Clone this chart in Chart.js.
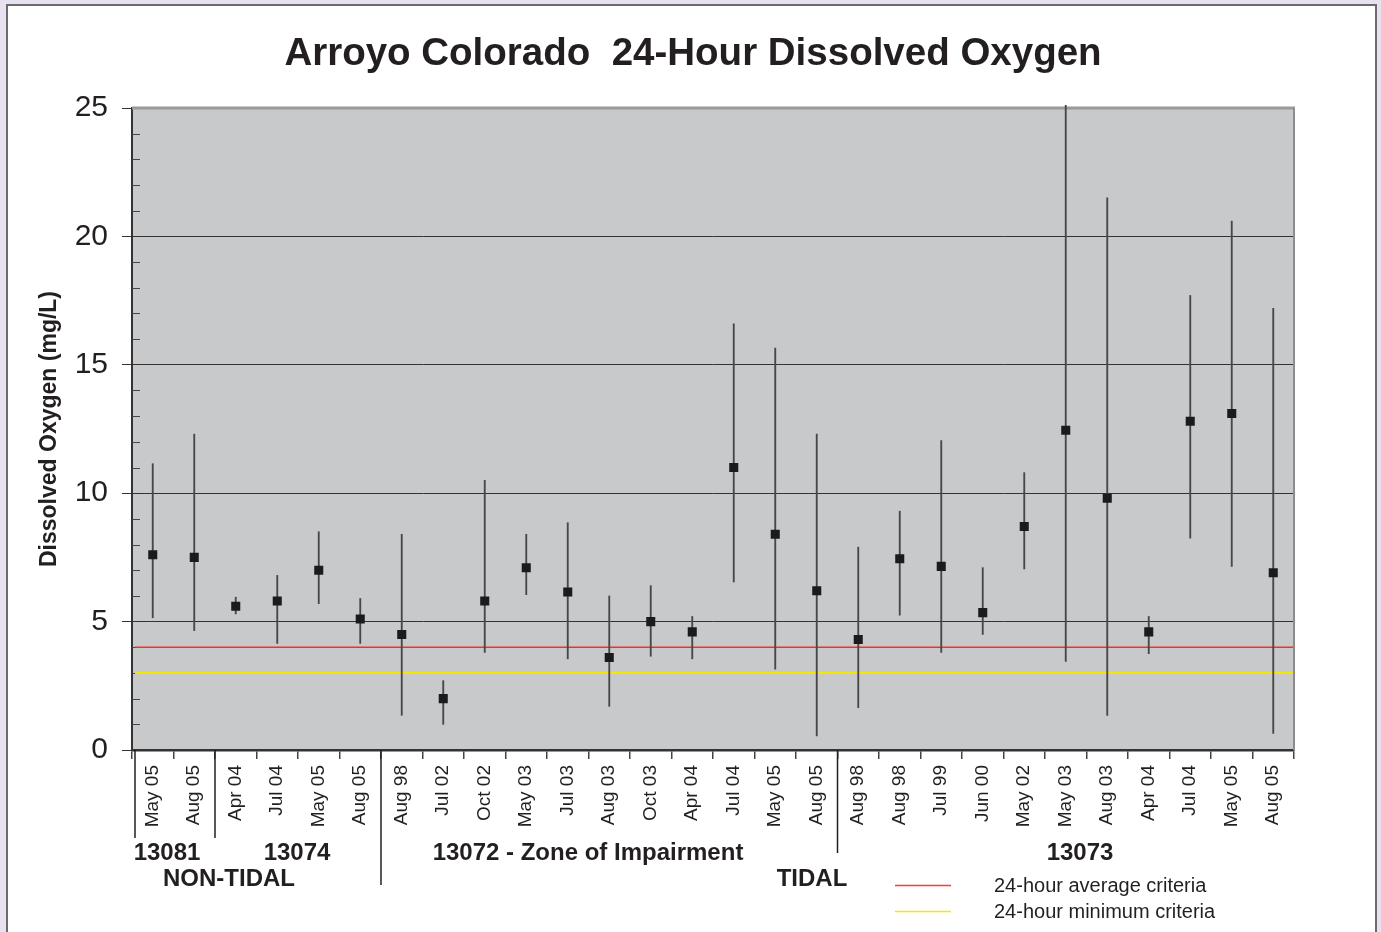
<!DOCTYPE html>
<html lang="en">
<head>
<meta charset="UTF-8">
<title>Arroyo Colorado 24-Hour Dissolved Oxygen</title>
<script src="https://cdn.jsdelivr.net/npm/chart.js"></script>
<style>
  html, body { margin: 0; padding: 0; background: #e8e2f0; overflow: hidden; }
  #frame { position: absolute; left: 6px; top: 4px; width: 1367px; height: 940px;
           background: #fff; border: 2px solid #6b6b6b; }
  #doChart { position: absolute; left: 0; top: 0; }
</style>
</head>
<body>
<div id="frame"></div>
<canvas id="doChart" width="1381" height="932"></canvas>
<script>
// sampling events, in plot order
var categories = ['May 05','Aug 05','Apr 04','Jul 04','May 05','Aug 05','Aug 98','Jul 02','Oct 02','May 03',
                  'Jul 03','Aug 03','Oct 03','Apr 04','Jul 04','May 05','Aug 05','Aug 98','Aug 98','Jul 99',
                  'Jun 00','May 02','May 03','Aug 03','Apr 04','Jul 04','May 05','Aug 05'];
// 24-hour mean, max and min dissolved oxygen (mg/L)
var doMean = [7.6, 7.5, 5.6, 5.8, 7.0, 5.1, 4.5, 2.0, 5.8, 7.1, 6.15, 3.6, 5.0, 4.6, 11.0, 8.4, 6.2, 4.3, 7.45, 7.15,
              5.35, 8.7, 12.45, 9.8, 4.6, 12.8, 13.1, 6.9];
var doMax  = [11.15, 12.3, 5.95, 6.8, 8.5, 5.9, 8.4, 2.7, 10.5, 8.4, 8.85, 6.0, 6.4, 5.2, 16.6, 15.65, 12.3, 7.9, 9.3, 12.05,
              7.1, 10.8, 25.1, 21.5, 5.2, 17.7, 20.6, 17.2];
var doMin  = [5.15, 4.65, 5.3, 4.15, 5.7, 4.15, 1.35, 1.0, 3.8, 6.05, 3.55, 1.7, 3.65, 3.55, 6.55, 3.15, 0.55, 1.65, 5.25, 3.8,
              4.5, 7.05, 3.45, 1.35, 3.75, 8.25, 7.15, 0.65];
var yTicks = [0, 5, 10, 15, 20, 25];
var avgCriteria = 4;
var minCriteria = 3;

Chart.defaults.font.family = '"Liberation Sans", Arial, sans-serif';
Chart.defaults.color = '#231f20';

// plot background, criteria lines, frame edges, minor ticks, title and notes
var plotDecor = {
    id: 'plotDecor',
    beforeDraw: function(chart) {
        var a = chart.chartArea, c = chart.ctx;
        c.save();
        c.fillStyle = '#c8c9cb';
        c.fillRect(a.left, a.top, a.right - a.left, a.bottom - a.top);
        c.restore();
    },
    beforeDatasetsDraw: function(chart) {
        var a = chart.chartArea, c = chart.ctx, y = chart.scales.y;
        c.save();
        // minor ticks inside plot
        c.strokeStyle = '#444';
        c.lineWidth = 1;
        for (var v = 1; v < 25; v++) {
            if (v % 5 === 0) continue;
            var py = Math.round(y.getPixelForValue(v)) + 0.5;
            c.beginPath(); c.moveTo(a.left, py); c.lineTo(a.left + 8, py); c.stroke();
        }
        // criteria
        c.lineWidth = 1.5;
        c.strokeStyle = '#ff2b2b';
        var ry = y.getPixelForValue(avgCriteria);
        c.beginPath(); c.moveTo(a.left + 3, ry); c.lineTo(a.right, ry); c.stroke();
        c.lineWidth = 2;
        c.strokeStyle = '#f5e800';
        var yy = y.getPixelForValue(minCriteria);
        c.beginPath(); c.moveTo(a.left + 3, yy); c.lineTo(a.right, yy); c.stroke();
        // top and right edges
        c.strokeStyle = '#9a9a9a';
        c.lineWidth = 3;
        c.beginPath(); c.moveTo(a.left, a.top); c.lineTo(a.right + 1, a.top); c.stroke();
        c.strokeStyle = '#8c8c8c';
        c.lineWidth = 2;
        c.beginPath(); c.moveTo(a.right, a.top); c.lineTo(a.right, a.bottom); c.stroke();
        c.restore();
    },
    afterDraw: function(chart) {
        var a = chart.chartArea, c = chart.ctx, x = chart.scales.x;
        var step = (a.right - a.left) / categories.length;
        c.save();
        c.fillStyle = '#231f20';
        c.textAlign = 'center';
        c.textBaseline = 'middle';
        c.font = 'bold 38.5px "Liberation Sans", Arial, sans-serif';
        c.fillText('Arroyo Colorado  24-Hour Dissolved Oxygen', 693, 54);
        // group separators below the axis
        c.strokeStyle = '#231f20';
        c.lineWidth = 1.5;
        var seps = [[0, 838], [2, 838], [6, 885], [17, 853]];
        seps.forEach(function(s) {
            var px = s[0] === 0 ? a.left + 3 : x.getPixelForValue(s[0]) - step / 2;
            c.beginPath(); c.moveTo(px, a.bottom); c.lineTo(px, s[1]); c.stroke();
        });
        c.font = 'bold 24px "Liberation Sans", Arial, sans-serif';
        c.fillText('13081', 167, 853);
        c.fillText('13074', 297, 853);
        c.fillText('13072 - Zone of Impairment', 588, 853);
        c.fillText('13073', 1080, 853);
        c.fillText('NON-TIDAL', 229, 879);
        c.fillText('TIDAL', 812, 879);
        // legend
        c.lineWidth = 1.5;
        c.strokeStyle = '#ff3a3a';
        c.beginPath(); c.moveTo(895, 885.5); c.lineTo(951, 885.5); c.stroke();
        c.strokeStyle = '#f5e800';
        c.beginPath(); c.moveTo(895, 911.5); c.lineTo(951, 911.5); c.stroke();
        c.font = '20px "Liberation Sans", Arial, sans-serif';
        c.textAlign = 'left';
        c.fillText('24-hour average criteria', 994, 886);
        c.fillText('24-hour minimum criteria', 994, 912);
        c.restore();
    }
};

var ctx = document.getElementById('doChart').getContext('2d');
var doChart = new Chart(ctx, {
    type: 'bar',
    data: {
        labels: categories,
        datasets: [{
            type: 'line',
            label: 'Mean',
            data: doMean,
            showLine: false,
            pointStyle: 'rect',
            pointRadius: 6.4,
            pointBackgroundColor: '#1b1b1b',
            pointBorderWidth: 0,
            order: 1
        }, {
            label: 'Range',
            data: doMin.map(function(m, i) { return [m, doMax[i]]; }),
            backgroundColor: '#474747',
            barThickness: 1.2,
            clip: false,
            order: 2
        }]
    },
    options: {
        responsive: false,
        animation: false,
        layout: { padding: { left: 0, right: 87, top: 108, bottom: 0 } },
        plugins: {
            legend: { display: false },
            tooltip: { enabled: false }
        },
        scales: {
            x: {
                offset: true,
                grid: { drawOnChartArea: false, offset: true, tickLength: 9, tickColor: '#444', lineWidth: 1.5 },
                border: { color: '#333', width: 2.5 },
                ticks: { autoSkip: false, minRotation: 90, maxRotation: 90, padding: 6, font: { size: 19 }, color: '#231f20' },
                afterFit: function(s) { s.height = 182; }
            },
            y: {
                min: 0, max: 25,
                afterBuildTicks: function(s) { s.ticks = yTicks.map(function(v) { return { value: v }; }); },
                grid: {
                    color: function(ctx) { return (ctx.tick && (ctx.tick.value === 0 || ctx.tick.value === 25)) ? 'rgba(0,0,0,0)' : '#333'; },
                    tickColor: '#333', tickLength: 10, lineWidth: 1
                },
                border: { color: '#333', width: 2 },
                ticks: { padding: 14, font: { size: 30 }, color: '#231f20' },
                title: {
                    display: true,
                    text: 'Dissolved Oxygen (mg/L)',
                    font: { size: 23, weight: 'bold' },
                    color: '#231f20',
                    padding: { top: 36, bottom: 0 }
                },
                afterFit: function(s) { s.width = 132; }
            }
        }
    },
    plugins: [plotDecor]
});
</script>
</body>
</html>
